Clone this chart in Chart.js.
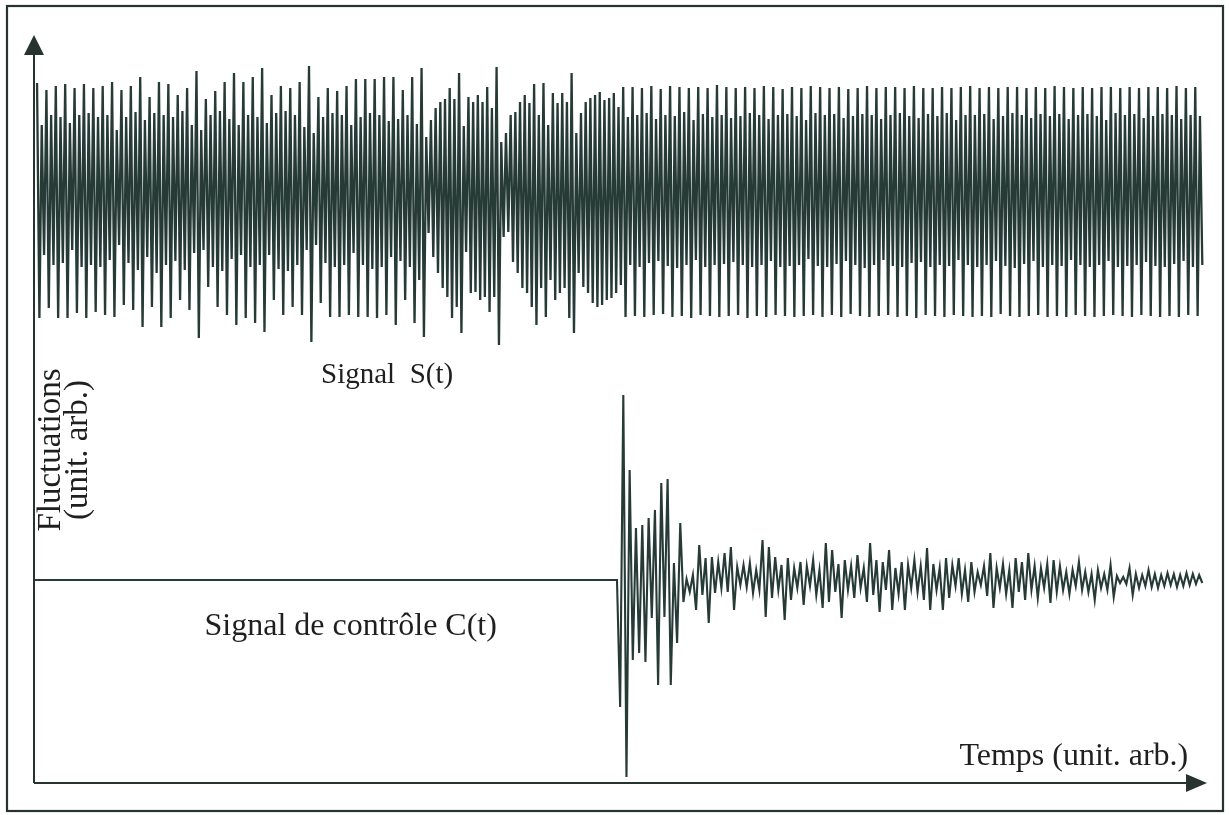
<!DOCTYPE html>
<html lang="fr">
<head>
<meta charset="utf-8">
<title>Signal S(t) et signal de contrôle C(t)</title>
<script src="https://cdn.jsdelivr.net/npm/chart.js@4.4.1/dist/chart.umd.min.js"></script>
<style>
  html, body { margin: 0; padding: 0; background: #fff; }
  canvas { display: block; }
</style>
</head>
<body>
<canvas id="chart" width="1229" height="815"></canvas>
<script>
// time axis, unit. arb.
const T_MAX = 1000;
const S_START = 2.6;
const S_END = 996;
const C_START = 497;   // control switched on here
const C_END = 996;

// fluctuation axis, unit. arb.
const Y_MIN = -203;
const Y_MAX = 545;
const S_LEVEL = 385;   // mean level of S(t)
const C_LEVEL = 0;     // rest level of C(t)

// S(t): successive extrema (top, bottom, top, bottom ...) around S_LEVEL
const S_BURSTY = [
  112, -123, 70, -60, 105, -113, 80, -70, 109, -123, 78, -68, 111, -123, 72, -55,
  107, -118, 80, -72, 111, -123, 82, -70, 107, -117, 78, -72, 109, -120, 80, -65,
  113, -122, 65, -50, 105, -110, 78, -68, 109, -115, 83, -75, 118, -132, 75, -62,
  98, -112, 82, -78, 113, -132, 80, -70, 111, -123, 78, -66, 100, -105, 84, -75,
  107, -115, 70, -58, 124, -143, 65, -55, 96, -92, 80, -72, 104, -112, 84, -76,
  113, -120, 76, -64, 122, -130, 70, -60, 113, -123, 80, -72, 118, -128, 78, -70,
  127, -137, 72, -60, 100, -105, 82, -74, 109, -120, 84, -76, 107, -112, 80, -70,
  113, -120, 68, -55, 129, -147, 62, -50, 98, -108, 78, -68, 107, -122, 82, -72,
  104, -122, 80, -70, 109, -120, 70, -58, 116, -122, 78, -70, 116, -122, 82, -74,
  116, -123, 80, -72, 118, -120, 74, -62
];

const S_TRANSITION = [
  118, -130, 76, -66, 105, -105, 80, -72, 118, -128, 71, -85, 127, -142, 58, -38,
  75, -62, 87, -78, 93, -93, 96, -102, 107, -123, 96, -112, 122, -138, 69, -57,
  98, -98, 93, -97, 100, -105, 93, -102, 108, -117, 87, -102, 128, -150, 53, -42,
  62, -37, 80, -67, 83, -78, 93, -93, 100, -98, 92, -112, 111, -130, 80, -93,
  112, -122, 70, -85, 102, -105, 92, -98, 102, -93, 93, -123, 122, -138, 62, -78,
  82, -92, 93, -98, 97, -108, 100, -112, 103, -110, 95, -105, 97, -103, 102, -98,
  88, -90, 108, -122
];

const S_STEADY = [
  78, -70, 108, -121, 80, -72, 107, -122, 82, -68, 109, -120, 76, -66, 106, -119,
  80, -71, 109, -122, 79, -73, 108, -121, 83, -70, 107, -123, 75, -65, 108, -120,
  81, -72, 107, -121, 78, -70, 110, -122, 80, -69, 108, -121, 77, -67, 107, -120,
  79, -70, 108, -123, 82, -72, 107, -121, 80, -70, 109, -122, 76, -66, 108, -120,
  80, -72, 106, -121, 81, -71, 108, -122, 79, -70, 107, -121, 75, -64, 109, -120,
  82, -71, 108, -122, 80, -72, 107, -120, 81, -69, 108, -122, 77, -66, 106, -119,
  79, -70, 107, -121, 81, -73, 109, -122, 80, -70, 107, -121, 76, -65, 108, -120,
  80, -71, 108, -122, 82, -72, 107, -121, 79, -68, 109, -123, 77, -67, 107, -120,
  81, -72, 107, -121, 79, -70, 108, -122, 82, -71, 107, -120, 75, -65, 108, -121,
  80, -70, 109, -122, 80, -72, 107, -121, 81, -70, 108, -122, 76, -66, 107, -119,
  79, -71, 108, -121, 82, -73, 108, -122, 80, -69, 107, -121, 77, -66, 108, -120,
  81, -72, 107, -122, 79, -70, 109, -121, 81, -71, 108, -122, 76, -65, 107, -120,
  80, -70, 108, -121, 81, -72, 107, -122, 79, -70, 108, -121, 75, -66, 108, -120,
  82, -72, 107, -121, 80, -71, 108, -122, 81, -70, 107, -120, 77, -67, 108, -121,
  79, -71, 108, -122, 81, -72, 107, -121, 80, -69, 109, -122, 76, -66, 107, -120,
  80, -72, 108, -121, 79, -70
];

// C(t): extrema after the control is switched on, around C_LEVEL
const C_BURST = [
  0, -127, 185, -197, 110, -80, 52, -73, 55, -82, 62, -38, 70, -105, 97, -37,
  101, -105, 17, -63, 57, -22, 1, -12, 5
];

const C_NOISE = [
  -30, 35, -15, 22, -43, 23, -13, 18, -8, 27, -12, 33, -30, 13, -5, 15,
  -7, 17, -13, 10, -10, 40, -37, 33, -18, 23, -10, 15, -40, 22, -20, 12,
  -8, 18, -25, 14, -6, 20, -15, 10, -28, 37, -22, 30, -12, 16, -38, 20,
  -10, 14, -18, 25, -8, 12, -22, 37, -15, 20, -32, 18, -10, 30, -30, 12,
  -14, 18, -30, 15, -8, 20, -12, 14, -20, 32, -30, 16, -10, 12, -30, 22,
  -18, 15, -6, 22, -14, 10, -22, 18, -12, 8, -5, 14, -16, 27, -28, 12,
  -8, 16, -14, 10, -28, 22, -12, 18, -20, 27, -10, 14, -18, 12, -8, 16,
  -23, 20, -12, 14, -10, 8, -14, 10, -6, 18, -10, 8, -12, 6, -20, 10,
  -8, 6, -10, 15, -17, 4, -3, 3, -4, 12, -15, 6, -8, 5, -6, 10,
  -7, 6, -8, 5, -6, 7, -5, 6, -7, 5, -6, 7, -5, 6, -4, 5,
  -3
];

const TEXTS = {
  signal: 'Signal  S(t)',
  control: 'Signal de contrôle C(t)',
  xTitle: 'Temps (unit. arb.)',
  yTitle: ['Fluctuations', '(unit. arb.)']
};

const INK = '#26332f';
const TRACE = '#263a36';
const FONT = '"Liberation Serif", "Times New Roman", "DejaVu Serif", serif';

function toPoints(values, t0, t1, level) {
  const step = (t1 - t0) / (values.length - 1);
  return values.map((v, i) => ({ x: t0 + i * step, y: level + v }));
}

const sPoints = toPoints([...S_BURSTY, ...S_TRANSITION, ...S_STEADY], S_START, S_END, S_LEVEL);
const cPoints = [{ x: 0, y: C_LEVEL }, ...toPoints([...C_BURST, ...C_NOISE], C_START, C_END, C_LEVEL)];

const figurePlugin = {
  id: 'figure',
  beforeDraw(chart) {
    const { ctx } = chart;
    ctx.save();
    ctx.fillStyle = '#fff';
    ctx.fillRect(0, 0, chart.width, chart.height);
    ctx.restore();
  },
  afterDraw(chart) {
    const { ctx, chartArea: a, scales: { x, y } } = chart;
    ctx.save();

    // outer frame
    ctx.strokeStyle = INK;
    ctx.lineWidth = 2.2;
    ctx.strokeRect(7, 6, chart.width - 13, chart.height - 10);

    // axes with arrow heads
    ctx.lineWidth = 2;
    ctx.beginPath();
    ctx.moveTo(a.left, a.bottom);
    ctx.lineTo(a.left, a.top + 18);
    ctx.moveTo(a.left, a.bottom);
    ctx.lineTo(a.right - 18, a.bottom);
    ctx.stroke();

    ctx.fillStyle = INK;
    ctx.beginPath();
    ctx.moveTo(a.left, a.top);
    ctx.lineTo(a.left - 10, a.top + 20);
    ctx.lineTo(a.left + 10, a.top + 20);
    ctx.closePath();
    ctx.fill();
    ctx.beginPath();
    ctx.moveTo(a.right, a.bottom);
    ctx.lineTo(a.right - 21, a.bottom - 9);
    ctx.lineTo(a.right - 21, a.bottom + 9);
    ctx.closePath();
    ctx.fill();

    // labels
    ctx.fillStyle = '#1f1f1f';
    ctx.textBaseline = 'middle';
    ctx.textAlign = 'center';
    ctx.font = '29px ' + FONT;
    ctx.fillText(TEXTS.signal, x.getPixelForValue(301), y.getPixelForValue(205));
    ctx.font = '32px ' + FONT;
    ctx.fillText(TEXTS.control, x.getPixelForValue(270), y.getPixelForValue(-47));
    ctx.textAlign = 'right';
    ctx.fillText(TEXTS.xTitle, x.getPixelForValue(984), y.getPixelForValue(-177));

    // vertical title, two lines, read bottom to top
    ctx.textAlign = 'center';
    ctx.textBaseline = 'alphabetic';
    ctx.font = '33px ' + FONT;
    ctx.translate(a.left + 26, y.getPixelForValue(130));
    ctx.rotate(-Math.PI / 2);
    ctx.fillText(TEXTS.yTitle[0], 0, 0);
    ctx.fillText(TEXTS.yTitle[1], 0, 27);
    ctx.restore();
  }
};

new Chart(document.getElementById('chart'), {
  type: 'line',
  data: {
    datasets: [
      {
        label: 'S(t)',
        data: sPoints,
        borderColor: TRACE,
        borderWidth: 2.3,
        pointRadius: 0,
        tension: 0
      },
      {
        label: 'C(t)',
        data: cPoints,
        borderColor: TRACE,
        borderWidth: 2.1,
        pointRadius: 0,
        tension: 0
      }
    ]
  },
  options: {
    responsive: false,
    animation: false,
    devicePixelRatio: 1,
    layout: { padding: { left: 34, right: 22, top: 35, bottom: 32 } },
    plugins: { legend: { display: false }, tooltip: { enabled: false } },
    scales: {
      x: { type: 'linear', min: 0, max: T_MAX, display: false },
      y: { type: 'linear', min: Y_MIN, max: Y_MAX, display: false }
    }
  },
  plugins: [figurePlugin]
});
</script>
</body>
</html>
